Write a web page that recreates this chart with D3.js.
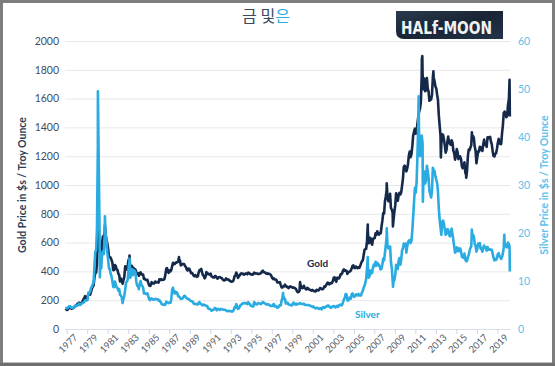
<!DOCTYPE html>
<html><head><meta charset="utf-8">
<script src="https://cdn.jsdelivr.net/npm/d3@7"></script>
<style>
html,body{margin:0;padding:0;background:#fff;}
svg{display:block;}
</style></head>
<body>
<svg id="chart" width="555" height="366"></svg>
<script>
// ---- data (monthly, mid-month, from Jan 1977) ----
const startYear = 1977;
const goldMonthly = [
 132,136,148,149,147,141,143,145,149,158,162,161,
 173,178,183,175,177,183,189,206,212,228,206,208,
 227,245,242,239,257,279,294,301,355,392,392,456,
 675,665,554,517,514,600,644,627,674,662,624,596,
 558,500,499,496,480,461,409,410,444,437,413,410,
 384,374,330,350,334,315,339,364,435,422,414,444,
 481,491,420,432,438,413,422,416,412,394,382,388,
 370,386,394,381,377,378,348,348,341,340,341,320,
 303,299,304,325,316,317,317,330,323,326,325,322,
 345,339,346,340,342,342,348,376,418,423,397,390,
 408,401,409,438,460,449,451,461,460,465,467,487,
 477,442,444,452,451,451,437,431,413,406,420,419,
 404,388,390,384,371,367,375,365,362,367,393,409,
 410,417,393,374,369,352,362,395,389,380,381,378,
 384,364,363,358,357,367,368,356,349,359,360,361,
 354,354,345,339,337,341,352,343,345,344,335,334,
 329,330,330,342,367,372,392,379,355,364,373,383,
 387,382,384,377,381,386,385,380,391,389,384,379,
 379,377,382,391,385,387,386,383,383,383,386,387,
 400,405,396,393,392,385,383,387,383,381,378,369,
 355,347,352,344,344,341,324,324,323,325,306,289,
 289,297,296,308,299,292,293,284,289,296,294,291,
 287,288,286,282,277,262,256,257,265,311,293,284,
 285,300,286,280,275,286,282,274,273,270,266,272,
 266,262,263,261,272,270,268,273,284,283,276,276,
 282,296,294,303,314,322,314,310,319,317,319,333,
 356,359,340,328,355,356,351,360,379,379,389,407,
 414,405,406,403,383,392,398,400,406,420,439,442,
 424,423,434,429,422,430,424,438,456,469,476,510,
 549,555,557,610,676,596,633,632,598,585,627,629,
 631,665,654,679,667,655,665,665,712,754,806,803,
 889,922,968,909,888,889,939,839,829,806,760,816,
 858,943,924,890,928,946,934,949,996,1043,1127,1134,
 1118,1095,1113,1148,1205,1232,1193,1215,1271,1343,1370,1391,
 1356,1372,1424,1473,1510,1529,1572,1756,1772,1666,1739,1652,
 1656,1742,1673,1650,1585,1596,1594,1626,1744,1747,1721,1684,
 1671,1627,1593,1485,1414,1343,1286,1352,1348,1316,1275,1225,
 1244,1300,1336,1299,1287,1279,1311,1296,1239,1222,1176,1200,
 1250,1227,1179,1198,1199,1181,1131,1117,1125,1157,1087,1068,
 1097,1200,1246,1242,1260,1276,1337,1341,1326,1267,1238,1151,
 1192,1234,1231,1266,1246,1260,1236,1283,1315,1280,1282,1265,
 1331,1331,1325,1335,1303,1282,1238,1202,1198,1215,1221,1250,
 1291,1320,1301,1285,1284,1359,1413,1500,1510,1495,1471,1480,
 1560,1597
];
const silverMonthly = [
 4.3,4.45,4.7,4.75,4.7,4.45,4.45,4.35,4.6,4.75,4.8,4.75,
 4.95,5.0,5.3,5.0,5.1,5.25,5.4,5.45,5.6,6.0,5.95,5.95,
 6.1,7.6,7.5,7.8,8.5,8.8,9.3,9.6,13.0,16.0,16.5,21.0,
 38.0,35.0,21.0,14.5,12.6,15.8,16.2,15.6,19.5,19.7,18.5,16.0,
 14.4,12.6,12.5,11.5,11.0,10.0,8.8,8.7,9.9,9.3,8.7,8.5,
 8.0,8.3,7.1,7.0,6.6,5.4,6.3,6.9,8.2,9.6,9.9,10.3,
 12.8,14.0,10.7,11.6,12.5,11.2,12.3,12.1,11.8,9.9,9.0,9.0,
 8.3,9.4,10.0,9.2,9.0,8.6,7.4,7.5,7.3,7.3,7.4,6.8,
 6.2,6.0,6.3,6.4,6.2,6.1,6.1,6.3,6.2,6.2,6.2,5.9,
 6.0,5.7,5.5,5.1,5.1,5.1,5.0,5.1,5.7,5.6,5.5,5.4,
 5.5,5.5,6.2,8.2,8.6,7.5,7.9,7.4,7.7,7.5,6.8,6.8,
 6.6,6.3,6.3,6.4,6.6,6.9,6.9,6.6,6.4,6.3,6.3,6.1,
 5.9,5.8,5.8,5.7,5.3,5.2,5.3,5.2,5.1,5.1,5.5,5.6,
 5.2,5.2,5.0,4.9,5.1,5.0,4.9,4.8,4.8,4.3,4.2,4.2,
 4.1,3.8,3.9,4.0,4.1,4.4,4.3,3.9,4.1,4.2,4.1,4.0,
 4.2,4.1,4.1,4.0,4.0,4.0,3.9,3.7,3.7,3.8,3.8,3.7,
 3.7,3.6,3.7,4.0,4.5,4.4,5.2,4.8,4.2,4.3,4.6,5.0,
 5.1,5.3,5.4,5.3,5.4,5.4,5.3,5.2,5.6,5.3,5.2,4.8,
 4.8,4.7,4.7,5.6,5.4,5.2,5.1,5.3,5.4,5.3,5.3,5.2,
 5.4,5.6,5.5,5.4,5.3,5.1,5.1,5.2,5.1,4.9,4.8,4.8,
 4.8,5.1,5.2,4.7,4.8,4.7,4.4,4.5,4.7,5.0,4.9,5.9,
 6.5,7.0,6.2,6.3,5.3,5.3,5.5,5.1,5.1,5.0,5.0,4.9,
 5.2,5.5,5.2,5.1,5.3,5.1,5.2,5.3,5.3,5.4,5.2,5.2,
 5.2,5.3,5.1,5.0,5.0,5.0,5.0,4.9,4.9,4.8,4.7,4.6,
 4.7,4.5,4.4,4.3,4.4,4.4,4.3,4.2,4.3,4.3,4.1,4.5,
 4.5,4.4,4.6,4.6,4.7,4.9,4.9,4.6,4.6,4.4,4.6,4.7,
 4.8,4.7,4.5,4.6,4.8,4.6,4.9,5.0,5.1,4.9,5.1,5.6,
 6.2,6.5,7.3,7.2,6.0,5.9,6.5,6.6,6.3,7.2,7.4,6.9,
 6.7,6.9,7.2,7.1,7.0,7.3,7.0,7.0,7.0,7.6,7.9,8.6,
 9.0,9.6,10.4,12.6,13.4,10.7,11.0,12.2,11.6,11.7,12.9,13.4,
 13.1,14.0,13.2,13.8,13.3,13.4,12.9,12.4,12.6,13.5,14.7,14.3,
 15.9,17.5,19.3,17.3,16.8,17.0,17.2,13.9,12.6,10.0,9.9,10.2,
 11.3,13.4,13.0,12.5,14.2,14.8,13.4,14.4,16.4,16.8,17.8,17.7,
 17.8,15.9,17.1,18.1,18.4,18.5,17.9,18.3,20.6,23.4,26.5,29.4,
 28.4,30.7,35.8,42.8,38.8,36.0,38.0,40.3,38.7,30.9,32.8,30.3,
 30.9,34.0,33.0,31.6,28.7,28.1,27.4,28.8,33.6,33.1,32.9,31.8,
 31.1,30.4,28.7,25.1,22.8,21.1,19.6,22.3,22.6,21.9,20.7,19.6,
 19.9,20.8,20.7,19.7,19.3,19.9,20.9,19.8,18.5,17.2,15.9,16.1,
 17.0,16.9,16.2,16.3,16.8,16.2,15.1,14.9,14.8,15.7,14.5,14.1,
 14.2,15.0,15.4,16.3,16.9,17.2,19.9,19.6,19.3,17.7,17.3,16.1,
 16.7,17.8,17.4,17.9,16.7,16.9,16.1,16.8,17.4,17.0,16.9,16.3,
 17.1,16.6,16.5,16.6,16.5,16.5,15.7,14.9,14.3,14.6,14.4,14.7,
 15.6,15.8,15.2,15.0,14.6,15.0,15.7,17.0,18.0,17.6,17.1,17.0,
 18.0,17.7
];
// extra daily readings (extremes and the ends of the series)
const goldDaily = [
 ["1976-11-15",130],["1976-12-15",134],["1980-01-21",850],["1980-09-22",720],
 ["1983-02-15",510],["1987-12-14",500],["1999-10-05",326],["2006-05-12",725],
 ["2008-03-17",1011],["2008-10-24",712],["2011-08-22",1877],["2011-09-06",1895],
 ["2012-10-04",1790],["2013-06-28",1192],["2015-12-17",1050],["2016-07-06",1366],
 ["2020-03-09",1730],["2020-03-19",1475]
];
const silverDaily = [
 ["1976-11-15",4.3],["1976-12-15",4.35],["1980-01-17",49.5],["1980-03-27",10.8],
 ["1980-09-22",23.5],["1983-02-15",14.7],["1998-02-05",7.5],["2006-05-12",15.0],
 ["2008-03-17",21.0],["2008-10-27",8.8],["2011-04-28",48.5],["2011-09-26",26.5],
 ["2016-07-05",20.7],["2019-09-04",19.6],["2020-03-09",17.1],["2020-03-19",12.0]
];
const yearTicks = d3.range(1977, 2020, 2);
const goldTicks = [0,200,400,600,800,1000,1200,1400,1600,1800,2000];
const silverTicks = [0,10,20,30,40,50,60];

// ---- build series ----
const parse = d3.timeParse("%Y-%m-%d");
function series(monthly, daily){
  const pts = monthly.map((v,i)=>({d:new Date(startYear + Math.floor(i/12), i%12, 15), v}));
  daily.forEach(([s,v])=>pts.push({d:parse(s), v}));
  pts.sort((a,b)=>a.d-b.d);
  return pts;
}
const goldData = series(goldMonthly, goldDaily);
const silverData = series(silverMonthly, silverDaily);

const svg = d3.select("#chart");
const L = 65, R = 510, T = 41, B = 329;
const navy = "#15294a", blue = "#2aabe2";
const font = "Lato, 'Open Sans', sans-serif";

const x = d3.scaleTime().domain([new Date(1976,10,1), new Date(2020,2,25)]).range([L,R]);
const yG = d3.scaleLinear().domain([0,2000]).range([B,T]);
const yS = d3.scaleLinear().domain([0,60]).range([B,T]);

// frame
svg.append("rect").attr("x",1.5).attr("y",1.5).attr("width",552).attr("height",362.5)
  .attr("fill","#fff").attr("stroke","#7d7d7d").attr("stroke-width",3);
svg.append("line").attr("x1",0).attr("x2",555).attr("y1",364.5).attr("y2",364.5).attr("stroke","#6e6e6e").attr("stroke-width",3);

// gridlines
svg.append("g").attr("transform",`translate(${L},0)`)
  .call(d3.axisLeft(yG).tickValues(goldTicks).tickSize(-(R-L)).tickFormat(""))
  .call(g=>{g.select(".domain").remove(); g.selectAll("line").attr("stroke","#e8e8e8");});

// left axis labels
svg.append("g").attr("transform",`translate(${L},0)`)
  .call(d3.axisLeft(yG).tickValues(goldTicks).tickFormat(d3.format("d")).tickSize(0).tickPadding(6))
  .call(g=>{g.select(".domain").remove();
    g.selectAll("text").attr("fill","#3f4d5f").style("font-family",font).style("font-size","10.5px");});

// right axis labels
svg.append("g").attr("transform",`translate(${R},0)`)
  .call(d3.axisRight(yS).tickValues(silverTicks).tickFormat(d3.format("d")).tickSize(0).tickPadding(8))
  .call(g=>{g.select(".domain").remove();
    g.selectAll("text").attr("fill","#5cc1ec").style("font-family",font).style("font-size","10.5px");});

// x axis
const xa = svg.append("g").attr("transform",`translate(0,${B})`)
  .call(d3.axisBottom(x).tickValues(yearTicks.map(y=>new Date(y,0,1))).tickFormat(d3.timeFormat("%Y")).tickSize(5).tickSizeOuter(0));
xa.select(".domain").attr("stroke","#d8dde6");
xa.selectAll(".tick line").attr("stroke","#ccd6eb");
xa.selectAll(".tick text")
  .attr("text-anchor","end").attr("dy",null).attr("y",0)
  .attr("transform","translate(11,9) rotate(-45)")
  .attr("fill","#555b66").style("font-family",font).style("font-size","9.5px");

// lines
const lineG = d3.line().x(d=>x(d.d)).y(d=>yG(d.v));
const lineS = d3.line().x(d=>x(d.d)).y(d=>yS(d.v));
svg.append("path").datum(goldData).attr("d",lineG).attr("fill","none").attr("stroke",navy).attr("stroke-width",2.6).attr("stroke-linejoin","round");
svg.append("path").datum(silverData).attr("d",lineS).attr("fill","none").attr("stroke",blue).attr("stroke-width",2.6).attr("stroke-linejoin","round");

// series labels
svg.append("text").attr("x",307).attr("y",267).text("Gold")
  .attr("fill",navy).style("font-family",font).style("font-weight","bold").style("font-size","10px");
svg.append("text").attr("x",355).attr("y",318).text("Silver")
  .attr("fill",blue).style("font-family",font).style("font-weight","bold").style("font-size","10px");

// axis titles
svg.append("text").attr("transform","translate(26,185) rotate(-90)").attr("text-anchor","middle")
  .text("Gold Price in $s / Troy Ounce").attr("fill","#2c3e57")
  .style("font-family",font).style("font-weight","bold").style("font-size","10.5px");
svg.append("text").attr("transform","translate(548,185) rotate(-90)").attr("text-anchor","middle")
  .text("Silver Price in $s / Troy Ounce").attr("fill","#5cc1ec")
  .style("font-family",font).style("font-weight","bold").style("font-size","10.5px");

// title
const title = svg.append("text").attr("x",266).attr("y",22).attr("text-anchor","middle")
  .style("font-family","'Noto Sans CJK KR', sans-serif").style("font-size","16px").attr("fill","#3b4a5c");
title.append("tspan").text("금 및");
title.append("tspan").text("은").attr("fill",blue);

// logo
const defs = svg.append("defs");
const gr = defs.append("linearGradient").attr("id","lg").attr("x1",0).attr("x2",1).attr("y1",0).attr("y2",1);
gr.append("stop").attr("offset","0%").attr("stop-color","#2a3a4e");
gr.append("stop").attr("offset","50%").attr("stop-color","#1a2535");
gr.append("stop").attr("offset","100%").attr("stop-color","#22344a");
svg.append("path").attr("d","M396,11 H503 V39 H404 Q396,39 396,31 Z").attr("fill","url(#lg)");
svg.append("text").attr("x",401).attr("y",34).text("HALf-MOON")
  .attr("textLength",91).attr("lengthAdjust","spacingAndGlyphs")
  .attr("fill","#f2f2f2").style("font-family","'DejaVu Sans', sans-serif").style("font-weight","bold").style("font-size","17px");
</script>
</body></html>
